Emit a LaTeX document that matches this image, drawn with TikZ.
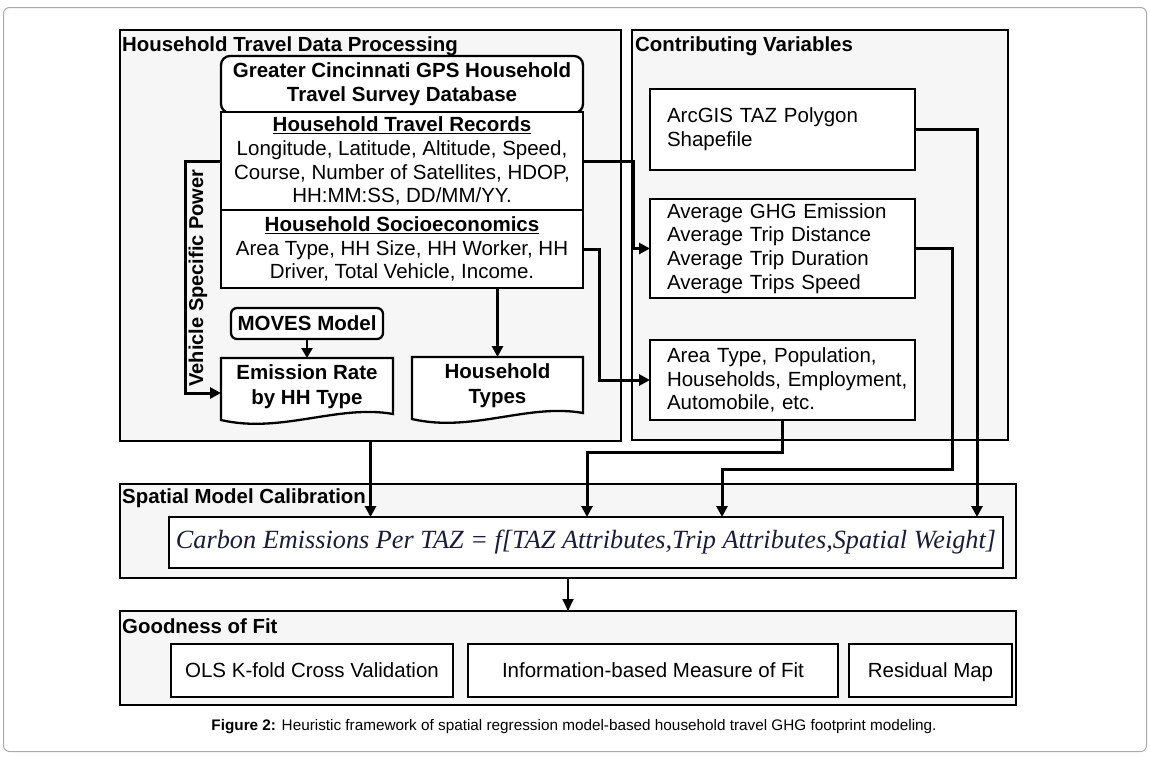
\documentclass[tikz,border=0pt]{standalone}
\usepackage{fontspec}
\setmainfont{Liberation Sans}
\newfontfamily\formfont{Liberation Serif}
\usetikzlibrary{arrows.meta,calc}
\definecolor{panelgray}{HTML}{F6F6F6}
\definecolor{framegray}{HTML}{ABABAB}
\definecolor{formcol}{HTML}{1C1C38}
\begin{document}
\begin{tikzpicture}[x=1pt,y=-1pt,
  panel/.style={draw=black, fill=panelgray, line width=2.8pt, inner sep=0pt, outer sep=0pt, anchor=north west},
  box/.style={draw=black, fill=white, line width=2.3pt, inner sep=0pt, outer sep=0pt},
  txt/.style={font=\fontsize{20.5}{23.8}\selectfont, align=center},
  btxt/.style={font=\bfseries\fontsize{20.5}{23.8}\selectfont, align=center},
  ttl/.style={font=\bfseries\fontsize{20.4}{22}\selectfont, anchor=base west, inner sep=0pt},
  conn/.style={line width=3pt, -{Triangle[length=11pt,width=11pt]}},
  thinconn/.style={line width=1.8pt, -{Triangle[length=12pt,width=11pt]}},
  lbox/.style={box, txt, align=left, text width=231pt, inner xsep=17pt},
  gbox/.style={box, txt, text height=17pt, text depth=3pt, minimum height=53pt}
]
\useasboundingbox (0,0) rectangle (1150,756);
\fill[white] (0,0) rectangle (1150,756);
\draw[framegray, line width=1pt, rounded corners=6pt] (3.5,7.5) rectangle (1146.5,751.5);

% panels
\node[panel, minimum width=501pt, minimum height=411pt] (p1) at (120,30) {};
\node[panel, minimum width=376pt, minimum height=410pt] (p2) at (632,30) {};
\node[panel, minimum width=896pt, minimum height=94pt] (p3) at (120,484) {};
\node[panel, minimum width=896pt, minimum height=94pt] (p4) at (120,611) {};

\node[ttl] (t1) at (122,51) {Household Travel Data Processing};
\node[ttl] (t2) at (635,51) {Contributing Variables};
\node[ttl] (t3) at (122,503) {Spatial Model Calibration};
\node[ttl] (t4) at (122,633) {Goodness of Fit};

% panel 1 boxes
\node[box, btxt, rounded corners=9pt, minimum width=362pt, minimum height=57pt] (db) at (402,84.5)
  {Greater Cincinnati GPS Household\\Travel Survey Database};
\node[box, txt, minimum width=362pt, minimum height=98pt] (rec) at (402,161)
  {\textbf{\underline{Household Travel Records}}\\Longitude, Latitude, Altitude, Speed,\\Course, Number of Satellites, HDOP,\\HH:MM:SS, DD/MM/YY.};
\node[box, txt, minimum width=362pt, minimum height=78pt] (soc) at (402,249)
  {\textbf{\underline{Household Socioeconomics}}\\Area Type, HH Size, HH Worker, HH\\Driver, Total Vehicle, Income.};
\node[box, btxt, rounded corners=6pt, minimum width=152pt, minimum height=31pt] (moves) at (307,323.5) {MOVES Model};

% document shapes
\node[inner sep=0pt, outer sep=0pt, minimum width=172pt, minimum height=62pt] (emis) at (307,389) {};
\draw[box] (emis.north west) -- (emis.north east) -- ([yshift=6pt]emis.south east)
  .. controls ([xshift=-55pt,yshift=16pt]emis.south east) and ([xshift=60pt,yshift=-14pt]emis.south west) .. (emis.south west) -- cycle;
\node[btxt, font=\bfseries\fontsize{20.5}{25}\selectfont] (emist) at (307,387) {Emission Rate\\by HH Type};

\node[inner sep=0pt, outer sep=0pt, minimum width=171pt, minimum height=62pt] (hht) at (497.5,388) {};
\draw[box] (hht.north west) -- (hht.north east) -- ([yshift=6pt]hht.south east)
  .. controls ([xshift=-55pt,yshift=16pt]hht.south east) and ([xshift=60pt,yshift=-14pt]hht.south west) .. (hht.south west) -- cycle;
\node[btxt, font=\bfseries\fontsize{20.5}{25}\selectfont] (hhtt) at (497.5,386) {Household\\Types};

% panel 2 boxes
\node[lbox, minimum height=81pt] (arc) at (782.5,129.5) {ArcGIS TAZ Polygon\\Shapefile};
\node[lbox, minimum height=99pt] (avg) at (782.5,248.5) {Average GHG Emission\\Average Trip Distance\\Average Trip Duration\\Average Trips Speed};
\node[lbox, minimum height=80pt] (area) at (782.5,380) {\mbox{Area Type, Population,}\\\mbox{Households, Employment,}\\\mbox{Automobile, etc.}};

% formula
\node[box, minimum width=834pt, minimum height=51pt] (form) at (586,542.5)
  {\color{formcol}\resizebox{820pt}{!}{\formfont\itshape\fontsize{22}{24}\selectfont Carbon Emissions Per TAZ = \textit{f}[TAZ Attributes,Trip Attributes,Spatial Weight]}};

% goodness of fit
\node[gbox, minimum width=282pt] (ols) at (312,670.5) {OLS K-fold Cross Validation};
\node[gbox, minimum width=370pt] (info) at (653,670.5) {Information-based Measure of Fit};
\node[gbox, minimum width=163pt] (res) at (930.5,670.5) {Residual Map};

% connectors
\coordinate (in2) at (587,517);
\coordinate (in3) at (722,517);
\coordinate (in4) at (977,517);

\draw[conn] (rec.west) -- ++(-36,0) |- ([yshift=-4pt]emis.west);
\node[btxt, font=\bfseries\fontsize{20}{22}\selectfont, rotate=90, anchor=north, inner sep=1pt] (vsp) at (187.5,278) {Vehicle Specific Power};
\draw[conn] (rec.east) -- ++(50,0) |- (avg.west);
\draw[conn] (soc.east) -- ++(16,0) |- (area.west);
\draw[conn] (hht.north |- soc.south) -- (hht.north);
\draw[line width=2.3pt, -{Triangle[length=10pt,width=11pt]}] (moves.south) -- (emis.north);
\draw[conn] (p1.south) -- (p1.south |- form.north);
\draw[conn] (area.south) |- (587,452) -- (in2);
\draw[conn] (avg.east) -| (952,469) -| (in3);
\draw[conn] (arc.east) -| (in4);
\draw[thinconn] (p3.south) -- (p4.north);

% caption
\node[font=\fontsize{15.3}{17}\selectfont] (cap) at (574,727) {\textbf{Figure 2:} Heuristic framework of spatial regression model-based household travel GHG footprint modeling.};
\end{tikzpicture}
\end{document}
